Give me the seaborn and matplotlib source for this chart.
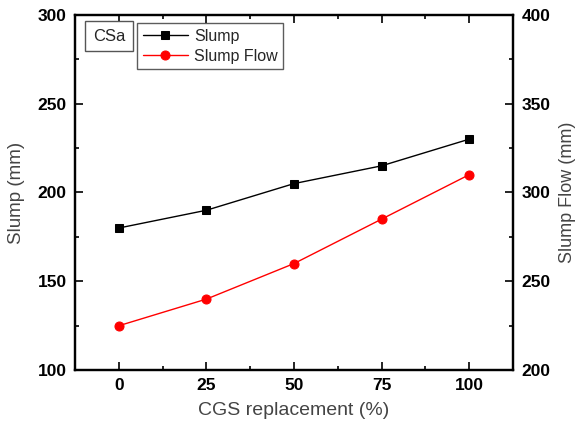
import numpy as np
import pandas as pd
import seaborn as sns
from matplotlib import pyplot as plt
from matplotlib.ticker import MultipleLocator

# data
replacement = [0, 25, 50, 75, 100]
slump = [180, 190, 205, 215, 230]
slump_flow = [225, 240, 260, 285, 310]

sns.set_style('ticks')
plt.rcParams['font.family'] = ['Liberation Sans', 'DejaVu Sans']

df = pd.DataFrame({'x': replacement, 'slump': slump, 'flow': slump_flow})

fig = plt.figure(figsize=(5.78, 4.23), dpi=100)
ax = fig.add_axes([0.13, 0.125, 0.7575, 0.84])
ax2 = ax.twinx()

sns.lineplot(data=df, x='x', y='slump', ax=ax, color='black', marker='s',
             markersize=6, markeredgecolor='black', linewidth=1, label='Slump', legend=False)
sns.lineplot(data=df, x='x', y='flow', ax=ax2, color='red', marker='o',
             markersize=6.5, markeredgecolor='red', linewidth=1, label='Slump Flow', legend=False)

ax.set_xlim(-12.5, 112.5)
ax.set_ylim(100, 300)
ax2.set_ylim(200, 400)
ax.set_xticks(replacement)
ax.set_yticks([100, 150, 200, 250, 300])
ax2.set_yticks([200, 250, 300, 350, 400])
ax.xaxis.set_minor_locator(MultipleLocator(12.5))
ax.yaxis.set_minor_locator(MultipleLocator(25))
ax2.yaxis.set_minor_locator(MultipleLocator(25))

ax.tick_params(axis='both', which='both', direction='in', top=True, labelsize=12.5, width=1.2,
               colors='black')
ax.tick_params(which='major', length=6, pad=6)
ax.tick_params(which='minor', length=3)
ax2.tick_params(axis='y', which='both', direction='in', labelsize=12.5, width=1.2, colors='black')
ax2.tick_params(which='major', length=6, pad=6)
ax2.tick_params(which='minor', length=3)
for a in (ax, ax2):
    for lab in a.get_xticklabels() + a.get_yticklabels():
        lab.set_fontweight('bold')
    for s in a.spines.values():
        s.set_linewidth(1.6)
        s.set_color('black')
        s.set_visible(True)

ax.set_xlabel('CGS replacement (%)', fontsize=14, color='#444444', labelpad=6)
ax.set_ylabel('Slump (mm)', fontsize=13.5, color='#444444', labelpad=9)
ax2.set_ylabel('Slump Flow (mm)', fontsize=13, color='#444444', labelpad=6)

ax.text(0.04, 0.94, 'CSa', transform=ax.transAxes, fontsize=12, va='center', ha='left',
        bbox=dict(boxstyle='square,pad=0.45', fc='white', ec='#555555', lw=1))

h1, l1 = ax.get_legend_handles_labels()
h2, l2 = ax2.get_legend_handles_labels()
leg = ax2.legend(h1 + h2, l1 + l2, loc='upper left', bbox_to_anchor=(0.135, 0.985),
                 fontsize=11.5, frameon=True, fancybox=False, edgecolor='#333333',
                 handlelength=2.8, borderpad=0.35, labelspacing=0.3, handletextpad=0.4,
                 borderaxespad=0.2)
leg.get_frame().set_linewidth(1)

fig.savefig('out.png', dpi=100)
